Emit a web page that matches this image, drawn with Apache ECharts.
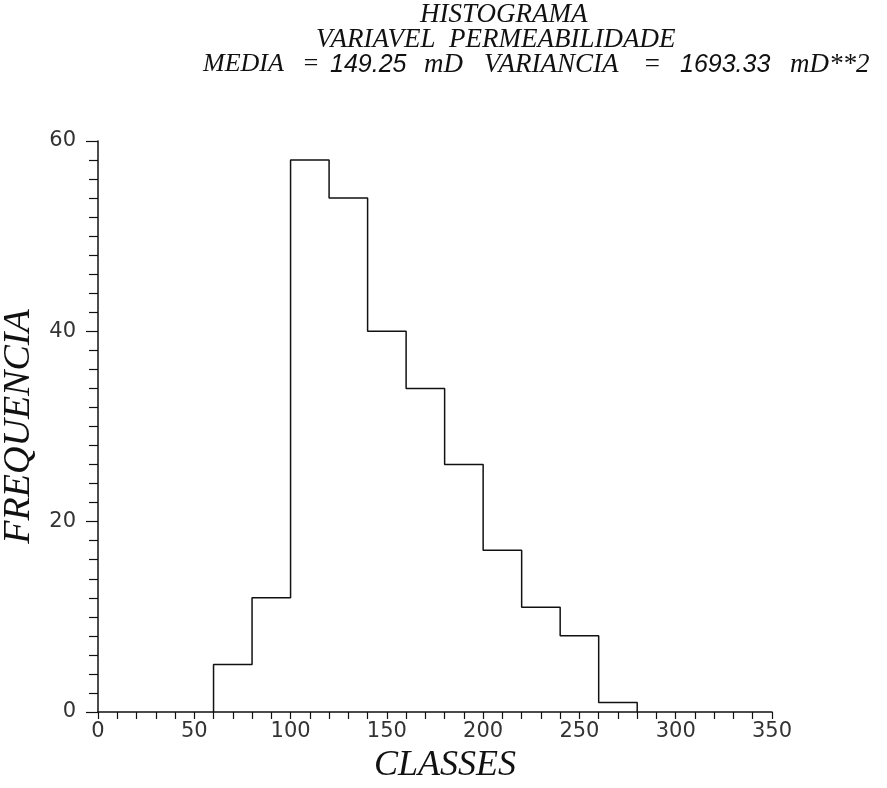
<!DOCTYPE html>
<html>
<head>
<meta charset="utf-8">
<script src="https://cdn.jsdelivr.net/npm/echarts@6/dist/echarts.min.js"></script>
<style>
  html, body { margin: 0; padding: 0; background: #fff; }
  #chart { width: 887px; height: 788px; }
</style>
</head>
<body>
<div id="chart"></div>
<script>
// Histogram of permeability classes (width 20 mD)
const binEdges = [60, 80, 100, 120, 140, 160, 180, 200, 220, 240, 260, 280];
const frequencies = [5, 12, 58, 54, 40, 34, 26, 17, 11, 8, 1];

const xTicks = [0, 50, 100, 150, 200, 250, 300, 350];
const yTicks = [0, 20, 40, 60];

const titleLine1 = 'HISTOGRAMA';
const titleLine2 = 'VARIAVEL  PERMEABILIDADE';
const meanValue = '149.25';
const varianceValue = '1693.33';

// Outline of the histogram as a stepped polyline
function stepOutline(edges, counts) {
  const pts = [[edges[0], 0]];
  for (let i = 0; i < counts.length; i++) {
    pts.push([edges[i], counts[i]]);
    pts.push([edges[i + 1], counts[i]]);
  }
  pts.push([edges[edges.length - 1], 0]);
  return pts;
}

const serifItalic = { fontFamily: 'Liberation Serif', fontStyle: 'italic', fontWeight: 'normal', color: '#111' };
const sansItalic = { fontFamily: 'Liberation Sans', fontStyle: 'italic', fontWeight: 'normal', color: '#111' };

function titlePiece(text, pos, top, size, base) {
  return Object.assign({ text: text, top: top, padding: 0, textStyle: Object.assign({ fontSize: size }, base) }, pos);
}

// Third heading line is laid out word by word
const statsTop = 51;
const titles = [
  titlePiece(titleLine1, { left: 420 }, 1, 27, serifItalic),
  titlePiece(titleLine2, { left: 316 }, 26, 27, serifItalic),
  titlePiece('MEDIA', { left: 203 }, statsTop, 26, serifItalic),
  titlePiece('=', { left: 302 }, statsTop, 26, serifItalic),
  titlePiece(meanValue, { left: 330 }, statsTop + 2, 25, sansItalic),
  titlePiece('mD', { left: 424 }, statsTop, 27, serifItalic),
  titlePiece('VARIANCIA', { left: 484 }, statsTop, 27, serifItalic),
  titlePiece('=', { left: 643 }, statsTop, 27, serifItalic),
  titlePiece(varianceValue, { left: 680 }, statsTop + 2, 25, sansItalic),
  titlePiece('mD**2', { left: 790 }, statsTop, 27, serifItalic)
];

const chart = echarts.init(document.getElementById('chart'));
chart.setOption({
  backgroundColor: '#fff',
  animation: false,
  title: titles,
  grid: { left: 98, right: 115, top: 141, bottom: 76, containLabel: false, outerBoundsMode: 'none' },
  xAxis: {
    type: 'value',
    min: xTicks[0], max: xTicks[xTicks.length - 1], interval: 50,
    name: 'CLASSES', nameLocation: 'middle', nameGap: 36,
    nameTextStyle: Object.assign({ fontSize: 36, padding: [0, 0, 0, 20] }, serifItalic),
    axisLine: { show: true, onZero: false, lineStyle: { color: '#111', width: 1.5 } },
    axisTick: { show: true, length: 7, inside: false, lineStyle: { color: '#111', width: 1.2 } },
    minorTick: { show: true, splitNumber: 5, length: 7, lineStyle: { color: '#111', width: 1.2 } },
    axisLabel: { fontFamily: 'DejaVu Sans', fontSize: 21, color: '#333', margin: 9 },
    splitLine: { show: false }
  },
  yAxis: {
    type: 'value',
    min: yTicks[0], max: yTicks[yTicks.length - 1], interval: 20,
    name: 'FREQUENCIA', nameLocation: 'middle', nameGap: 56, nameRotate: 90,
    nameTextStyle: Object.assign({ fontSize: 38 }, serifItalic),
    axisLine: { show: true, lineStyle: { color: '#111', width: 1.5 } },
    axisTick: { show: true, length: 12, lineStyle: { color: '#111', width: 1.2 } },
    minorTick: { show: true, splitNumber: 10, length: 9, lineStyle: { color: '#111', width: 1.2 } },
    axisLabel: { fontFamily: 'DejaVu Sans', fontSize: 21, color: '#333', margin: 22 },
    splitLine: { show: false }
  },
  series: [{
    type: 'line',
    data: stepOutline(binEdges, frequencies),
    symbol: 'none',
    lineStyle: { color: '#111', width: 1.5 },
    z: 3
  }]
});
</script>
</body>
</html>
